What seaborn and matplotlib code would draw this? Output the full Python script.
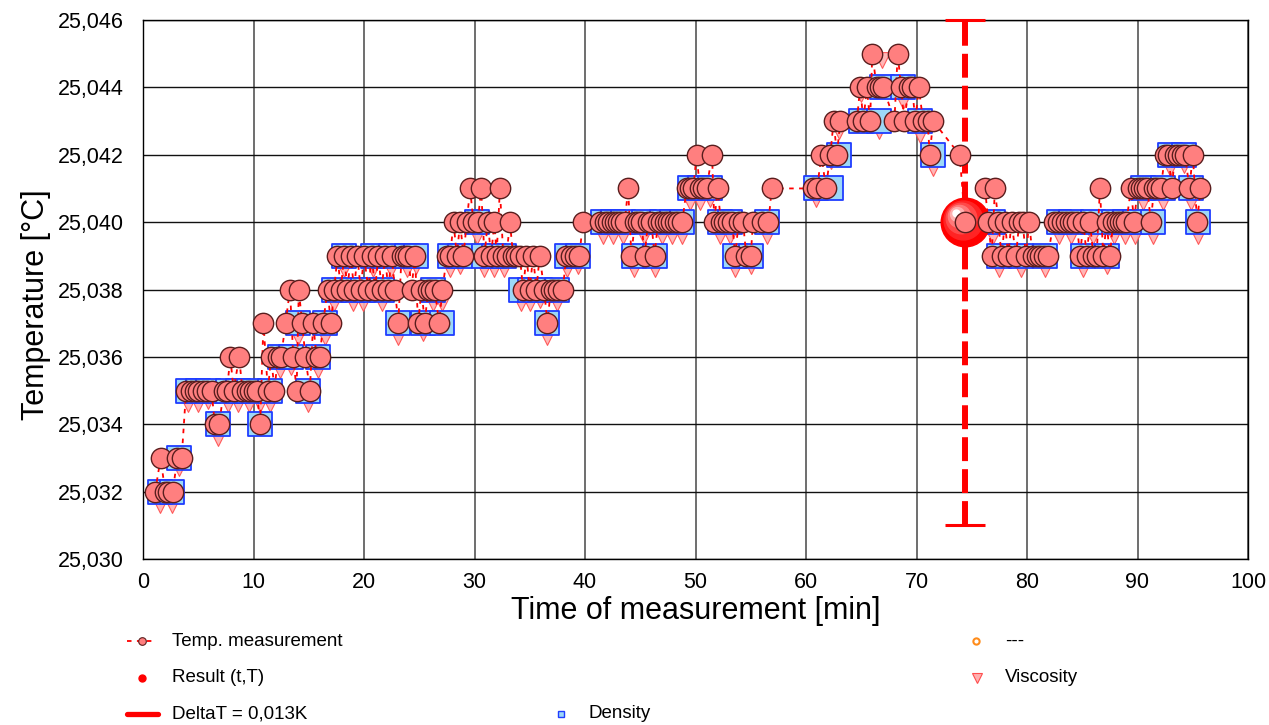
import numpy as np
import pandas as pd
import seaborn as sns
import matplotlib
matplotlib.use("Agg")
from matplotlib import pyplot as plt
from matplotlib import transforms
from matplotlib.lines import Line2D
from matplotlib.ticker import FuncFormatter

BASE_T = 25.0  # all *_mk lists are mK above 25 °C

# temperature measurement
meas_time = [
    1.1, 1.6, 2.0, 2.3, 2.7, 3.1, 3.5, 3.9, 4.3, 4.7,
    5.0, 5.4, 5.8, 6.2, 6.5, 6.9, 7.3, 7.6, 7.9, 8.2,
    8.7, 9.0, 9.4, 9.7, 10.0, 10.3, 10.6, 10.9, 11.3, 11.6,
    11.9, 12.2, 12.5, 12.9, 13.3, 13.6, 13.9, 14.1, 14.4, 14.7,
    15.1, 15.4, 15.7, 16.0, 16.3, 16.7, 17.0, 17.3, 17.6, 17.9,
    18.2, 18.5, 18.8, 19.1, 19.4, 19.7, 20.0, 20.4, 20.7, 21.0,
    21.3, 21.6, 21.9, 22.2, 22.5, 22.8, 23.1, 23.4, 23.7, 24.0,
    24.3, 24.6, 24.9, 25.2, 25.5, 25.8, 26.1, 26.4, 26.8, 27.1,
    27.5, 27.8, 28.1, 28.4, 28.7, 29.0, 29.3, 29.6, 29.9, 30.3,
    30.6, 30.9, 31.2, 31.5, 31.8, 32.0, 32.3, 32.6, 32.9, 33.2,
    33.5, 33.8, 34.1, 34.4, 34.7, 35.0, 35.3, 35.6, 35.9, 36.3,
    36.6, 36.9, 37.2, 37.6, 38.0, 38.3, 38.7, 39.1, 39.5, 39.8,
    41.4, 41.8, 42.1, 42.4, 42.7, 43.0, 43.3, 43.6, 43.9, 44.2,
    44.5, 44.8, 45.1, 45.4, 45.7, 46.0, 46.3, 46.6, 46.9, 47.2,
    47.5, 47.8, 48.1, 48.4, 48.8, 49.2, 49.5, 49.8, 50.1, 50.4,
    50.7, 51.0, 51.5, 51.7, 52.0, 52.3, 52.6, 52.9, 53.3, 53.6,
    53.9, 54.3, 54.6, 55.0, 55.2, 56.0, 56.6, 56.9,
    60.6, 61.0, 61.4, 61.8, 62.2, 62.5, 62.8, 63.1, 64.6, 64.9,
    65.2, 65.5, 65.8, 66.0, 66.4, 66.7, 67.0, 68.0, 68.3, 68.6,
    68.9, 69.3, 69.6, 69.9, 70.2, 70.6, 71.0, 71.2, 71.5, 73.9,
    74.4,
    76.2, 76.5, 76.8, 77.1, 77.4, 77.7, 78.0, 78.3, 78.6, 79.0,
    79.3, 79.6, 79.9, 80.2, 80.5, 80.9, 81.2, 81.5, 81.9, 82.4,
    82.8, 83.2, 83.5, 83.9, 84.2, 84.5, 84.8, 85.1, 85.4, 85.7,
    86.0, 86.3, 86.6, 86.9, 87.2, 87.5, 87.8, 88.1, 88.4, 88.7,
    89.0, 89.4, 89.7, 90.0, 90.3, 90.6, 90.9, 91.2, 91.5, 91.8,
    92.1, 92.5, 92.8, 93.1, 93.4, 93.7, 94.0, 94.3, 94.7, 95.0,
    95.4, 95.7,
]
meas_mk = [
    32, 33, 32, 32, 32, 33, 33, 35, 35, 35,
    35, 35, 35, 35, 34, 34, 35, 35, 36, 35,
    36, 35, 35, 35, 35, 35, 34, 37, 35, 36,
    35, 36, 36, 37, 38, 36, 35, 38, 37, 36,
    35, 37, 36, 36, 37, 38, 37, 38, 39, 38,
    39, 38, 39, 38, 39, 38, 39, 38, 39, 38,
    39, 38, 39, 38, 39, 38, 37, 39, 39, 39,
    38, 39, 37, 38, 37, 38, 38, 38, 37, 38,
    39, 39, 40, 39, 40, 39, 40, 41, 40, 40,
    41, 39, 40, 39, 40, 39, 41, 39, 39, 40,
    39, 39, 39, 38, 39, 38, 39, 38, 39, 38,
    37, 38, 38, 38, 38, 39, 39, 39, 39, 40,
    40, 40, 40, 40, 40, 40, 40, 40, 41, 39,
    40, 40, 40, 39, 40, 40, 39, 40, 40, 40,
    40, 40, 40, 40, 40, 41, 41, 41, 42, 41,
    41, 41, 42, 40, 41, 40, 40, 40, 40, 39,
    40, 40, 39, 39, 40, 40, 40, 41,
    41, 41, 42, 41, 42, 43, 42, 43, 43, 44,
    43, 44, 43, 45, 44, 44, 44, 43, 45, 44,
    43, 44, 44, 43, 44, 43, 43, 42, 43, 42,
    40,
    41, 40, 39, 41, 40, 39, 40, 39, 40, 39,
    40, 40, 39, 40, 39, 39, 39, 39, 39, 40,
    40, 40, 40, 40, 40, 40, 39, 40, 39, 40,
    39, 39, 41, 39, 40, 39, 40, 40, 40, 40,
    40, 41, 40, 41, 41, 41, 41, 40, 41, 41,
    41, 42, 42, 41, 42, 42, 42, 42, 41, 42,
    40, 41,
]

# density / viscosity readings
dv_time = [
    1.5, 2.6, 3.3, 4.1, 5.0, 5.9, 6.8, 7.7, 8.6, 9.6,
    10.6, 11.5, 12.4, 13.4, 14.0, 14.9, 15.8, 16.5, 17.3, 18.2,
    19.0, 19.9, 20.8, 21.6, 22.4, 23.1, 23.9, 24.7, 25.3, 26.2,
    27.1, 27.8, 28.7, 30.2, 30.9, 31.8, 32.7, 34.2, 35.0, 35.9,
    36.6, 37.5, 38.4, 39.4, 41.6, 42.5, 43.4, 44.4, 45.3, 46.3,
    47.0, 47.9, 48.8, 49.5, 50.4, 51.3, 52.2, 53.1, 53.6, 55.0,
    56.5, 60.9, 62.3, 63.0, 65.0, 66.6, 66.9, 68.8, 70.3, 71.5,
    76.9, 77.5, 79.5, 81.6, 82.9, 84.0, 85.1, 86.0, 87.2, 87.9,
    88.9, 89.8, 90.5, 91.4, 92.3, 92.9, 94.2, 94.8, 95.5,
]
density_mk = [
    32, 32, 33, 35, 35, 35, 34, 35, 35, 35,
    34, 35, 36, 36, 37, 35, 36, 37, 38, 39,
    38, 38, 39, 38, 39, 37, 39, 39, 37, 38,
    37, 39, 39, 40, 39, 39, 39, 38, 38, 38,
    37, 38, 39, 39, 40, 40, 40, 39, 40, 39,
    40, 40, 40, 41, 41, 41, 40, 40, 39, 39,
    40, 41, 41, 42, 43, 43, 44, 44, 43, 42,
    40, 39, 39, 39, 40, 40, 39, 40, 39, 40,
    40, 40, 41, 40, 41, 42, 42, 41, 40,
]
visc_mk = [
    31.6, 31.6, 32.7, 34.6, 34.6, 34.7, 33.6, 34.6, 34.6, 34.6,
    34.6, 34.6, 35.6, 35.7, 36.6, 34.6, 35.6, 36.6, 37.6, 38.6,
    37.6, 37.6, 38.6, 37.6, 38.6, 36.6, 38.6, 38.7, 36.7, 37.6,
    37.6, 38.6, 38.7, 39.6, 38.6, 38.6, 38.6, 37.6, 37.6, 37.7,
    36.6, 37.6, 38.6, 38.7, 39.6, 39.6, 39.6, 38.6, 39.6, 38.6,
    39.6, 39.6, 39.6, 40.6, 40.6, 40.7, 39.6, 39.6, 38.6, 38.7,
    39.6, 40.7, 41.8, 42.7, 43.8, 42.7, 44.8, 43.6, 42.6, 41.6,
    39.6, 38.6, 38.6, 38.6, 39.6, 39.6, 38.6, 39.6, 38.7, 39.6,
    39.6, 39.6, 40.6, 39.6, 40.6, 41.6, 41.7, 40.6, 39.6,
]

# result (t,T) and DeltaT bar
result_time = 74.4
result_temp = 25.040
delta_low = 25.031
delta_high = 25.046

meas = pd.DataFrame({'t': meas_time, 'T': BASE_T + np.array(meas_mk) / 1000})
dv = pd.DataFrame({'t': dv_time,
                   'dens': BASE_T + np.array(density_mk) / 1000,
                   'visc': BASE_T + np.array(visc_mk) / 1000})

sns.set_style('white')
plt.rcParams['font.family'] = ['Liberation Sans', 'DejaVu Sans']
plt.rcParams['text.color'] = 'black'
plt.rcParams['axes.labelcolor'] = 'black'
plt.rcParams['xtick.color'] = 'black'
plt.rcParams['ytick.color'] = 'black'

W, H = 1269, 725
fig = plt.figure(figsize=(W / 100, H / 100), dpi=100)
ax = fig.add_axes([143 / W, 1 - 559 / H, 1105 / W, 539 / H])

sns.scatterplot(data=dv, x='t', y='visc', marker='v', s=130, color='#ffb0b0',
                edgecolor='#ff4d4d', linewidth=0.8, alpha=0.9, zorder=2, ax=ax)
sns.scatterplot(data=dv, x='t', y='dens', marker='s', s=280, color='#9dd8f7',
                edgecolor='#1f3dff', linewidth=1.3, zorder=3, ax=ax)
sns.lineplot(data=meas, x='t', y='T', color='red', linewidth=1.3, linestyle=(0, (2.5, 3)),
             estimator=None, sort=False, zorder=4, ax=ax)

# DeltaT bar
eb = ax.errorbar([result_time], [result_temp],
                 yerr=[[result_temp - delta_low], [delta_high - result_temp]],
                 fmt='none', ecolor='red', elinewidth=4.3, capsize=14.5, capthick=2.2, zorder=5)
eb[2][0].set_linestyle((0, (4.0, 1.35)))
for c in eb[1]:
    c.set_clip_on(False)

# result sphere with a highlight
ax.plot(result_time, result_temp, 'o', ms=35, color='#ff0000', mec='#ff0000', zorder=6)
for ms, col, off in [(28, '#ff2424', 1.8), (22, '#ff4a4a', 3.2), (16, '#ff7a7a', 4.5),
                     (10, '#ffb0b0', 5.6), (5, '#ffffff', 6.4)]:
    tr = transforms.offset_copy(ax.transData, fig=fig, x=-off, y=off, units='points')
    ax.plot(result_time, result_temp, 'o', ms=ms, color=col, mec=col, transform=tr, zorder=6)

sns.scatterplot(data=meas, x='t', y='T', marker='o', s=215, color='#ff7f7f',
                edgecolor='#5a1e1e', linewidth=1.0, zorder=7, ax=ax)

ax.set_xlim(0, 100)
ax.set_ylim(25.030, 25.046)
ax.set_xticks(range(0, 101, 10))
ax.set_yticks(np.arange(25.030, 25.0465, 0.002))
ax.yaxis.set_major_formatter(FuncFormatter(lambda v, p: f'{v:.3f}'.replace('.', ',')))
ax.tick_params(axis='y', length=12, width=1, color='black', pad=2, labelsize=15.5)
ax.tick_params(axis='x', length=5, width=1, color='black', pad=4, labelsize=15.5)
ax.set_axisbelow(True)
ax.grid(axis='x', color='#555555', linewidth=1.2)
ax.grid(axis='y', color='#111111', linewidth=1.0)
for s in ax.spines.values():
    s.set_color('black')
    s.set_linewidth(1.0)

ax.set_xlabel('Time of measurement [min]', fontsize=22)
ax.xaxis.set_label_coords(0.5, -0.068)
ax.set_ylabel('Temperature [°C]', fontsize=22)
ax.yaxis.set_label_coords(-0.083, 0.471)


# legend below the chart, drawn in figure pixels
def fx(px):
    return px / W


def fy(py):
    return 1 - py / H


rows = [641, 678, 714]
fig.add_artist(Line2D([fx(127), fx(156)], [fy(rows[0])] * 2, color='red', lw=1.3,
                      linestyle=(0, (2.5, 3))))
fig.add_artist(Line2D([fx(142)], [fy(rows[0])], marker='o', ms=5.5, mfc='#ff7f7f',
                      mec='#5a1e1e', mew=0.8, lw=0))
fig.add_artist(Line2D([fx(142)], [fy(rows[1])], marker='o', ms=5, mfc='red', mec='red', lw=0))
fig.add_artist(Line2D([fx(127), fx(158)], [fy(rows[2])] * 2, color='red', lw=3.8))
fig.add_artist(Line2D([fx(561)], [fy(rows[2])], marker='s', ms=4, mfc='#9dd8f7',
                      mec='#1f3dff', mew=1, lw=0))
fig.add_artist(Line2D([fx(976)], [fy(rows[0])], marker='o', ms=4.5, mfc='white',
                      mec='#ff8c1a', mew=1.5, lw=0))
fig.add_artist(Line2D([fx(977)], [fy(rows[1])], marker='v', ms=6.5, mfc='#ffb0b0',
                      mec='#ff4d4d', mew=0.8, lw=0))
legend_texts = [(172, rows[0], 'Temp. measurement'), (172, rows[1], 'Result (t,T)'),
                (172, rows[2], 'DeltaT = 0,013K'), (588, rows[2], 'Density'),
                (1005, rows[0], '---'), (1005, rows[1], 'Viscosity')]
for x, y, txt in legend_texts:
    fig.text(fx(x), fy(y), txt, fontsize=13.5, va='center', ha='left')

fig.savefig('out.png', dpi=100)
